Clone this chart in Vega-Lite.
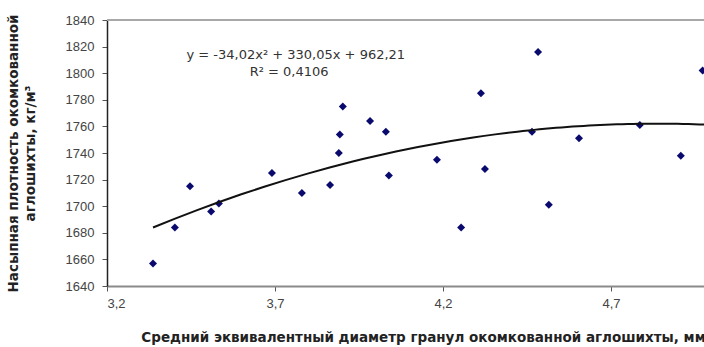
{
  "$schema": "https://vega.github.io/schema/vega-lite/v6.json",
  "width": 597,
  "height": 266,
  "autosize": {"type": "none"},
  "padding": {"left": 107, "top": 20, "right": 0, "bottom": 61},
  "background": "white",
  "config": {
    "view": {"stroke": null},
    "font": "Liberation Sans",
    "axis": {"grid": false, "labelFont": "Liberation Sans", "titleFont": "DejaVu Sans"}
  },
  "datasets": {
    "pts": [
      {"d": 3.337, "p": 1657},
      {"d": 3.402, "p": 1684},
      {"d": 3.447, "p": 1715},
      {"d": 3.51, "p": 1696},
      {"d": 3.533, "p": 1702},
      {"d": 3.691, "p": 1725},
      {"d": 3.78, "p": 1710},
      {"d": 3.864, "p": 1716},
      {"d": 3.89, "p": 1740},
      {"d": 3.893, "p": 1754},
      {"d": 3.902, "p": 1775},
      {"d": 3.983, "p": 1764},
      {"d": 4.03, "p": 1756},
      {"d": 4.039, "p": 1723},
      {"d": 4.182, "p": 1735},
      {"d": 4.254, "p": 1684},
      {"d": 4.313, "p": 1785},
      {"d": 4.325, "p": 1728},
      {"d": 4.465, "p": 1756},
      {"d": 4.483, "p": 1816},
      {"d": 4.515, "p": 1701},
      {"d": 4.605, "p": 1751},
      {"d": 4.786, "p": 1761},
      {"d": 4.908, "p": 1738},
      {"d": 4.973, "p": 1802}
    ],
    "notes": [
      {"d": 3.762, "p": 1814, "label": "y = -34,02x² + 330,05x + 962,21"},
      {"d": 3.742, "p": 1801, "label": "R² = 0,4106"}
    ]
  },
  "layer": [
    {
      "data": {"name": "pts"},
      "mark": {"type": "point", "shape": "diamond", "filled": true, "size": 64, "color": "#0a0a6e", "opacity": 1},
      "encoding": {
        "x": {
          "field": "d", "type": "quantitative",
          "scale": {"domain": [3.2, 4.977], "nice": false, "zero": false},
          "axis": {
            "values": [3.2, 3.7, 4.2, 4.7],
            "tickCount": 20,
            "labelExpr": "replace(format(datum.value, '.1f'), '.', ',')",
            "domainColor": "#8a8a8a", "domainWidth": 2,
            "tickColor": "#555555", "tickSize": 5,
            "labelFontSize": 13, "labelColor": "#444444", "labelPadding": 6,
            "title": "Средний эквивалентный диаметр гранул окомкованной аглошихты, мм",
            "titleFontSize": 13.5, "titleFontWeight": "bold", "titleColor": "#222222",
            "titleX": 316, "titleY": 51, "titleAnchor": null, "titleAlign": "center", "titleBaseline": "middle"
          }
        },
        "y": {
          "field": "p", "type": "quantitative",
          "scale": {"domain": [1640, 1840], "nice": false, "zero": false},
          "axis": {
            "values": [1640, 1660, 1680, 1700, 1720, 1740, 1760, 1780, 1800, 1820, 1840],
            "tickCount": 20,
            "format": "d", "labelOverlap": false,
            "domainColor": "#222222", "domainWidth": 1.5,
            "tickColor": "#555555", "tickSize": 5,
            "labelFontSize": 13, "labelColor": "#444444", "labelPadding": 8,
            "title": ["Насыпная плотность окомкованной", "аглошихты, кг/м³"],
            "titleFontSize": 13.5, "titleFontWeight": "bold", "titleColor": "#222222",
            "titleAngle": -90, "titleX": -101, "titleY": 133, "titleAlign": "center", "titleBaseline": "top",
            "titleLineHeight": 17
          }
        }
      }
    },
    {
      "data": {"name": "pts"},
      "transform": [
        {"regression": "p", "on": "d", "method": "poly", "order": 2, "extent": [3.337, 4.98]}
      ],
      "mark": {"type": "line", "color": "#111111", "strokeWidth": 2, "clip": true},
      "encoding": {
        "x": {"field": "d", "type": "quantitative"},
        "y": {"field": "p", "type": "quantitative"}
      }
    },
    {
      "data": {"name": "notes"},
      "mark": {"type": "text", "font": "DejaVu Sans", "fontSize": 13, "color": "#333333", "align": "center", "baseline": "middle"},
      "encoding": {
        "x": {"field": "d", "type": "quantitative"},
        "y": {"field": "p", "type": "quantitative"},
        "text": {"field": "label"}
      }
    },
    {
      "data": {"values": [{"top": 1840}]},
      "mark": {"type": "rule", "color": "#a8a8a8", "strokeWidth": 2},
      "encoding": {"y": {"field": "top", "type": "quantitative"}}
    }
  ]
}
